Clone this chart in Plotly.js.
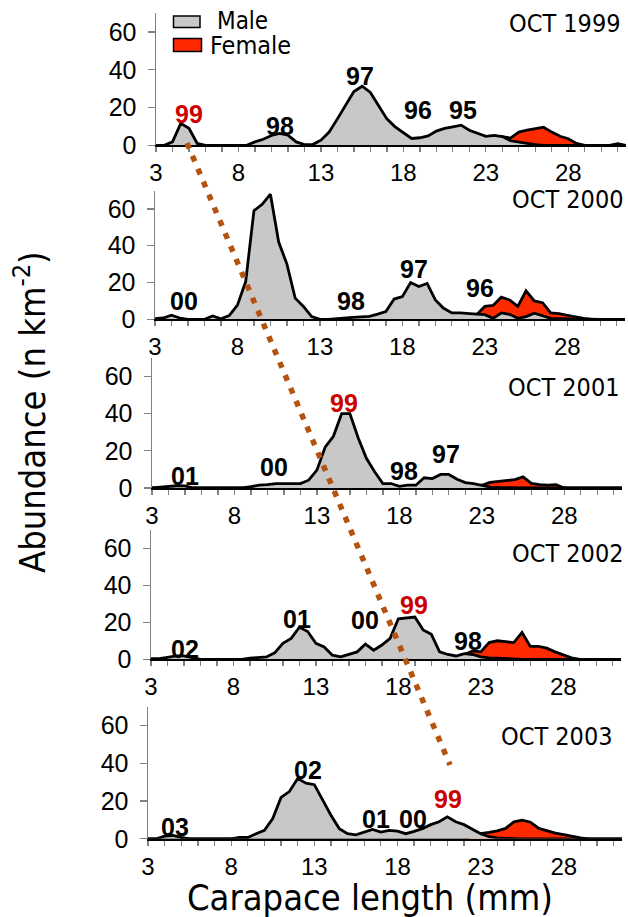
<!DOCTYPE html>
<html>
<head>
<meta charset="utf-8">
<script src="https://cdn.plot.ly/plotly-3.0.1.min.js"></script>
<style>
html,body{margin:0;padding:0;background:#fff;}
#chart{width:628px;height:917px;}
</style>
</head>
<body>
<div id="chart"></div>
<script>
// Carapace length classes (mm)
const lengths = [3,3.5,4,4.5,5,5.5,6,6.5,7,7.5,8,8.5,9,9.5,10,10.5,11,11.5,12,12.5,13,13.5,14,14.5,15,15.5,16,16.5,17,17.5,18,18.5,19,19.5,20,20.5,21,21.5,22,22.5,23,23.5,24,24.5,25,25.5,26,26.5,27,27.5,28,28.5,29,29.5,30,30.5,31,31.5];

const male1999 = [0,0,1.8,11.6,9,1,0,0,0,0, 0,0,1.8,3.2,5.2,6.3,5.4,1.8,0.4,0.4, 2.7,7,14,21,28.5,31.3,28,21,14,9.8, 6.5,3.6,4,5,7.5,9,9.8,10.7,8,6.5, 4.7,5.3,4.6,2.4,1.6,0.8,0.3,0,0,0, 0,0,0,0,0,0,0.8,0];
const female1999 = [0,0,0,0,0,0,0,0,0,0, 0,0,0,0,0,0,0,0,0,0, 0,0,0,0,0,0,0,0,0,0, 0,0,0,0,0,0,0,0,0,1, 4,4.5,4.6,3.8,7,8,8.8,9.6,7,4.8, 3.5,1,0,0,0,0,0,0];

const male2000 = [0.4,0.7,2.2,0.7,0,0,0,1.8,0.3,2, 7.7,20.5,59,62.5,68,42,30,11.5,7,1.5, 0,0,0.2,0.6,1,1.3,1.6,2.8,4.2,11, 12.3,20,17.8,19.5,10.5,6,3.5,3.5,3,2.8, 2.5,0.5,3.5,2.7,0.5,1.5,3.3,2,0.5,0.4, 0.3,0,0,0,0,0,0,0];
const female2000 = [0,0,0,0,0,0,0,0,0,0, 0,0,0,0,0,0,0,0,0,0, 0,0,0,0,0,0,0,0,0,0, 0,0,0,0,0,0,0,0,0.5,2.5, 7,7.5,12,10.5,7,15.5,10,9,3.5,3.1, 2.2,1.2,0.5,0,0,0,0,0];

const male2001 = [0,0.5,1.1,1.2,1.1,0,0,0,0,0, 0.4,0,0.7,1.5,1.8,2.4,2.4,2.2,2.4,4.2, 9.6,22,27.8,40,40,27,16,8.7,2.4,2.4, 0.9,1.5,1.5,5.5,5.1,7.3,7.3,4.7,2.9,2.4, 1.5,0.5,0.3,0.2,0,0,0,0,0,0, 0,0,0,0,0,0,0,0];
const female2001 = [0,0,0,0,0,0,0,0,0,0, 0,0,0,0,0,0,0,0,0,0, 0,0,0,0,0,0,0,0,0,0, 0,0,0,0,0,0,0,0,0.5,1, 1.5,3,3.6,4,4.5,6,2.5,1.8,1.5,1.8, 0,0,0,0,0,0,0,0];

const male2002 = [0.4,0.4,1.1,1.8,1.8,1,0,0,0,0, 0,0,0.6,0.9,1.3,3.5,8.6,11.3,17.3,15, 8.6,6.7,2.2,1.3,2.6,4,8.2,4.9,7.7,11.3, 21.9,22.2,22.8,15.9,13.5,4,2.6,1.8,3.1,2.6, 1.3,0.8,0.5,0.3,0,0,0,0,0,0, 0,0,0,0,0,0,0,0];
const female2002 = [0,0,0,0,0,0,0,0,0,0, 0,0,0,0,0,0,0,0,0,0, 0,0,0,0,0,0,0,0,0,0, 0,0,0,0,0,0,0,0,2.5,4.5, 4,9,10,9.5,9,14.5,7,7,6,4, 2.2,0.8,0,0,0,0,0,0];

const male2003 = [0,0,1.4,1.8,0.7,0,0,0,0,0, 0,0.7,0.7,2.7,4.5,10.7,21.9,25,31.9,29.5, 28.7,20.6,12.5,5.4,2.7,2.1,3.6,5,3.6,4.5, 4.1,2.7,3.9,5.4,7.5,9,11.6,9,7.5,5, 2.7,1.2,0.5,0.2,0,0,0,0,0,0, 0,0,0,0,0,0,0,0];
const female2003 = [0,0,0,0,0,0,0,0,0,0, 0,0,0,0,0,0,0,0,0,0, 0,0,0,0,0,0,0,0,0,0, 0,0,0,0,0,0,0,0,0,1.5, 2.7,3.4,4.2,5.5,9,9.9,8.8,5.5,4.2,3, 2.2,1.2,0.5,0,0,0,0,0];

const panelTitles = ['OCT 1999','OCT 2000','OCT 2001','OCT 2002','OCT 2003'];
const yTicks = [0,20,40,60];
const xTickStart = 3;

// cohort labels per panel: [text, length, abundance, isRed]
const cohorts = [
  [['99',5.0,16.6,true],['98',10.5,10.2,false],['97',15.36,36.7,false],['96',18.9,18.7,false],['95',21.6,18.7,false]],
  [['99',9.77,72.4,true],['00',4.76,9.9,false],['98',14.88,9.9,false],['97',18.7,27.5,false],['96',22.7,17.2,false]],
  [['99',14.64,45.7,true],['01',5.0,6.5,false],['00',10.42,11.1,false],['98',18.3,9.4,false],['97',20.8,18.3,false]],
  [['01',11.85,21.8,false],['00',15.97,21.2,false],['99',18.97,29.5,true],['98',22.24,9.9,false],['02',5.06,5.6,false]],
  [['02',12.65,36.5,false],['03',4.6,6.3,false],['01',16.73,10.5,false],['00',18.96,10.5,false],['99',21.03,21.1,true]]
];

const maleSeries = [male1999,male2000,male2001,male2002,male2003];
const femaleSeries = [female1999,female2000,female2001,female2002,female2003];

const W = 628, H = 917;
const px = v => v / W;
const py = v => 1 - v / H;

// panel geometry in pixels
const panels = [
  {x0:156, x1:626, yb:145.3, yt:13.2, tx:623, ty:23.5},
  {x0:155, x1:625, yb:319.3, yt:190.5, tx:626, ty:199.5},
  {x0:152, x1:622, yb:488.0, yt:357.9, tx:622, ty:387},
  {x0:151, x1:621, yb:659.3, yt:529.7, tx:626, ty:553},
  {x0:148, x1:622, yb:838.8, yt:706.7, tx:615, ty:736.6}
];

const MALE_FILL = '#c8c8c8';
const FEMALE_FILL = '#ff2a00';
const LINE = '#000000';
const TICKFONT = {family:'Liberation Sans, Arial, sans-serif', size:24, color:'#000'};
const LABELFONT = 'DejaVu Sans Condensed, DejaVu Sans, sans-serif';

const traces = [];
const layout = {
  width: W, height: H,
  margin: {l:0, r:0, t:0, b:0},
  paper_bgcolor: '#fff', plot_bgcolor: 'rgba(0,0,0,0)',
  showlegend: false,
  annotations: [],
  shapes: []
};

panels.forEach((p, i) => {
  const n = i === 0 ? '' : String(i + 1);
  const xa = 'x' + n, ya = 'y' + n;
  traces.push({
    type:'scatter', mode:'lines', x: lengths, y: femaleSeries[i], xaxis: xa, yaxis: ya,
    fill:'tozeroy', fillcolor: FEMALE_FILL, line:{color: LINE, width: 2.8}, hoverinfo:'skip'
  });
  traces.push({
    type:'scatter', mode:'lines', x: lengths, y: maleSeries[i], xaxis: xa, yaxis: ya,
    fill:'tozeroy', fillcolor: MALE_FILL, line:{color: LINE, width: 2.8}, hoverinfo:'skip'
  });
  layout['xaxis' + n] = {
    domain: [px(p.x0), px(p.x1)], range: [3, 31.5], anchor: ya,
    tickmode:'linear', tick0: xTickStart, dtick: 5,
    ticks:'outside', ticklen:5, tickwidth:1.3, tickcolor:'#808080',
    showline:true, linecolor:'#000', linewidth:2,
    showgrid:false, zeroline:false, tickfont: TICKFONT,
    minor: {tick0: xTickStart, dtick:1, ticks:'outside', ticklen:5, tickwidth:1.3, tickcolor:'#808080', showgrid:false}
  };
  layout['yaxis' + n] = {
    domain: [py(p.yb), py(p.yt)], range: [0, 70], anchor: xa,
    tickmode:'array', tickvals: yTicks,
    ticks:'outside', ticklen:7, tickwidth:1.3, tickcolor:'#808080',
    showline:true, linecolor:'#808080', linewidth:1.5,
    showgrid:false, zeroline:false, tickfont: {family:TICKFONT.family, size:25, color:'#000'},
    ticklabelstandoff: 6
  };
  layout.annotations.push({
    xref:'paper', yref:'paper', x: px(p.tx), y: py(p.ty), xanchor:'right', yanchor:'middle',
    text: panelTitles[i], showarrow:false, font:{family: LABELFONT, size:25, color:'#000'}
  });
  cohorts[i].forEach(c => {
    layout.annotations.push({
      xref: xa, yref: ya, x: c[1], y: c[2], xanchor:'center', yanchor:'middle',
      text: c[0], showarrow:false,
      font:{family:'Liberation Sans, Arial, sans-serif', size:25, weight:700, color: c[3] ? '#cc0000' : '#000'}
    });
  });
});

// legend (top panel)
layout.shapes.push({type:'rect', xref:'paper', yref:'paper', x0:px(173.5), x1:px(200), y0:py(27.5), y1:py(16), fillcolor:MALE_FILL, line:{color:'#000', width:1.5}});
layout.shapes.push({type:'rect', xref:'paper', yref:'paper', x0:px(173.5), x1:px(201.5), y0:py(51.5), y1:py(38.5), fillcolor:FEMALE_FILL, line:{color:'#000', width:1.5}});
layout.annotations.push({xref:'paper', yref:'paper', x:px(215), y:py(21), xanchor:'left', yanchor:'middle', text:'Male', showarrow:false, font:{family:LABELFONT, size:24, color:'#000'}});
layout.annotations.push({xref:'paper', yref:'paper', x:px(208), y:py(45), xanchor:'left', yanchor:'middle', text:'Female', showarrow:false, font:{family:LABELFONT, size:25, color:'#000'}});

// cohort progression line (1999 year class)
layout.shapes.push({type:'line', xref:'paper', yref:'paper', x0:px(187), y0:py(143), x1:px(450), y1:py(765), line:{color:'#b4520f', width:5.5, dash:'6px,8px'}});

// axis titles
layout.annotations.push({xref:'paper', yref:'paper', x:px(370), y:py(897), xanchor:'center', yanchor:'middle', text:'Carapace length (mm)', showarrow:false, font:{family:LABELFONT, size:36, color:'#000'}});
layout.annotations.push({xref:'paper', yref:'paper', x:px(30), y:py(412), xanchor:'center', yanchor:'middle', textangle:-90, text:'Abundance (n km<sup>-2</sup>)', showarrow:false, font:{family:LABELFONT, size:36, color:'#000'}});

Plotly.newPlot('chart', traces, layout, {displayModeBar:false, staticPlot:true});
</script>
</body>
</html>
